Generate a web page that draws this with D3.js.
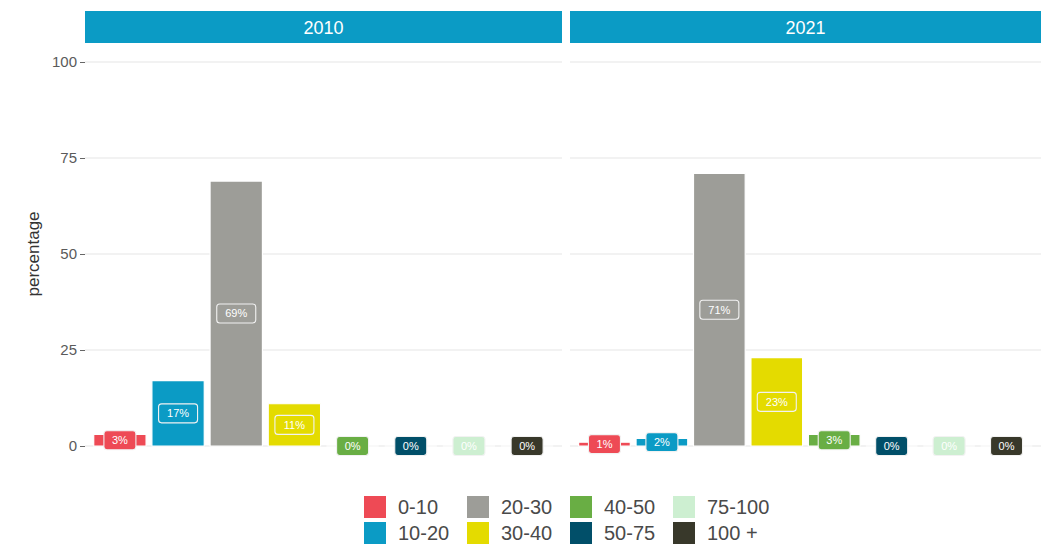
<!DOCTYPE html>
<html><head><meta charset="utf-8">
<script src="https://cdn.jsdelivr.net/npm/d3@7"></script>
<style>body{margin:0;background:#fff}svg{display:block}text{font-family:"Liberation Sans",Arial,sans-serif}</style>
</head><body><svg id="c" width="1048" height="544"></svg>
<script>
const categories = ["0-10","10-20","20-30","30-40","40-50","50-75","75-100","100 +"];
const colors = ["#EE4A55","#0B9BC5","#9D9D98","#E4DB00","#69AE44","#014F69","#CDEFD1","#38382A"];
const years = ["2010","2021"];
const values2010 = [3,17,69,11,0,0,0,0];
const values2021 = [1,2,71,23,3,0,0,0];
const yTicks = [0,25,50,75,100];

const svg = d3.select("#c");
const panels = [
  {year: years[0], values: values2010, x0: 85, x1: 562},
  {year: years[1], values: values2021, x0: 570, x1: 1041}
];
const y = d3.scaleLinear().domain([0,100]).range([446,62]);

// gridlines
panels.forEach(p => {
  svg.append("g").selectAll("line").data(yTicks).join("line")
    .attr("x1", p.x0).attr("x2", p.x1)
    .attr("y1", d => y(d)).attr("y2", d => y(d))
    .attr("stroke", "#e6e6e6").attr("stroke-width", 1.2);
});

// y axis
const yAxis = d3.axisLeft(y).tickValues(yTicks).tickSize(5).tickPadding(3);
const ag = svg.append("g").attr("transform", "translate(85,0)").call(yAxis);
ag.select(".domain").remove();
ag.selectAll(".tick line").attr("stroke", "#666").attr("stroke-width", 1);
ag.selectAll(".tick text").attr("fill", "#5a5a5a").style("font-size", "15px")
  .style("font-family", "Liberation Sans, Arial, sans-serif");

svg.append("text").attr("transform", "translate(39,254) rotate(-90)")
  .attr("text-anchor", "middle").attr("fill", "#333").style("font-size", "17px").text("percentage");

panels.forEach(p => {
  // strip
  svg.append("rect").attr("x", p.x0).attr("y", 11).attr("width", p.x1 - p.x0).attr("height", 32)
    .attr("fill", "#0B9BC5");
  svg.append("text").attr("x", (p.x0 + p.x1) / 2).attr("y", 34).attr("text-anchor", "middle")
    .attr("fill", "#fff").style("font-size", "18px").text(p.year);

  const x = d3.scaleBand().domain(categories).range([p.x0, p.x1]).paddingInner(0.1).paddingOuter(0.15);
  const data = categories.map((c, i) => ({c, v: p.values[i], col: colors[i]}));
  const g = svg.append("g");
  g.selectAll("path").data(data).join("path")
    .attr("d", d => {
      const xa = x(d.c), xb = xa + x.bandwidth(), ya = y(0), yb = y(d.v);
      return `M${xa},${ya}H${xb}V${yb}H${xa}Z`;
    })
    .attr("fill", d => d.col).attr("stroke", "#fff").attr("stroke-width", 1.2);

  const lg = svg.append("g").selectAll("g").data(data).join("g")
    .attr("transform", d => `translate(${x(d.c) + x.bandwidth() / 2},${y(d.v / 2)})`);
  lg.each(function(d) {
    const sel = d3.select(this);
    const t = Math.round(d.v) + "%";
    const w = t.length * 7 + 18;
    sel.append("rect").attr("x", -w / 2).attr("y", -9.5).attr("width", w).attr("height", 19)
      .attr("rx", 3).attr("fill", d.col).attr("stroke", "#f2f2f2").attr("stroke-width", 1.1);
    sel.append("text").attr("text-anchor", "middle").attr("dy", "0.36em")
      .attr("fill", "#fff").style("font-size", "11px").text(t);
  });
});

// legend (2 rows, column-major)
const leg = svg.append("g");
categories.forEach((c, i) => {
  const col = Math.floor(i / 2), row = i % 2;
  const lx = 364 + col * 103, ly = 496 + row * 26;
  leg.append("rect").attr("x", lx).attr("y", ly).attr("width", 22).attr("height", 22).attr("fill", colors[i]);
  leg.append("text").attr("x", lx + 34).attr("y", ly + 11).attr("dy", "0.36em")
    .attr("fill", "#4a4a4a").style("font-size", "20px").text(c);
});
</script></body></html>
